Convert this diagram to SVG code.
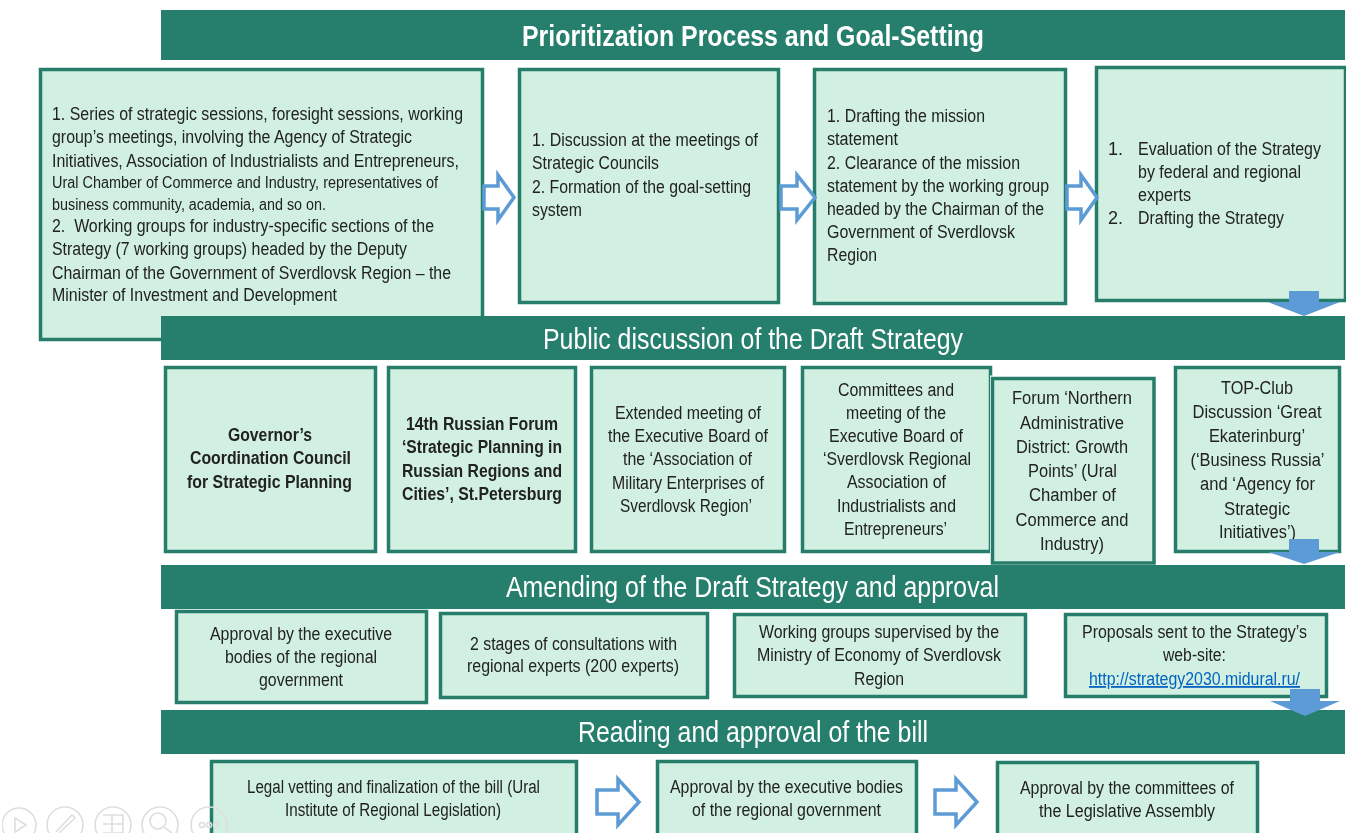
<svg xmlns="http://www.w3.org/2000/svg" width="1351" height="833" viewBox="0 0 1351 833">
<style>
text{font-family:"Liberation Sans",Arial,sans-serif;fill:#222;font-size:18px}
.b{fill:#d1f0e1;stroke:#277d6b;stroke-width:3.5}
.h{fill:#277f6c}
.ht{fill:#fff;font-size:29px}
.bd{font-weight:bold}
.s{font-size:16px}
.ha{fill:#fff;stroke:#5b9bd5;stroke-width:3.5}
.da{fill:#5b9bd5}
.i{fill:none;stroke:#dedede;stroke-width:1.6}
</style>
<defs><filter id="soft" x="0" y="0" width="100%" height="100%"><feGaussianBlur stdDeviation="0.3"/></filter></defs>
<rect width="1351" height="833" fill="#fff"/>
<g filter="url(#soft)">
<g id="node-a"><rect class="b" x="40.500" y="69.500" width="442" height="270"/>
<text x="52" y="120" textLength="411" lengthAdjust="spacingAndGlyphs">1. Series of strategic sessions, foresight sessions, working</text>
<text x="52" y="143" textLength="360" lengthAdjust="spacingAndGlyphs">group’s meetings, involving the Agency of Strategic</text>
<text x="52" y="166.500" textLength="407" lengthAdjust="spacingAndGlyphs">Initiatives, Association of Industrialists and Entrepreneurs,</text>
<text class="s" x="52" y="188" textLength="386" lengthAdjust="spacingAndGlyphs">Ural Chamber of Commerce and Industry, representatives of</text>
<text class="s" x="52" y="209.500" textLength="274" lengthAdjust="spacingAndGlyphs">business community, academia, and so on.</text>
<text x="52" y="232" textLength="382" lengthAdjust="spacingAndGlyphs" xml:space="preserve">2.  Working groups for industry-specific sections of the</text>
<text x="52" y="255" textLength="355" lengthAdjust="spacingAndGlyphs">Strategy (7 working groups) headed by the Deputy</text>
<text x="52" y="279" textLength="399" lengthAdjust="spacingAndGlyphs">Chairman of the Government of Sverdlovsk Region – the</text>
<text x="52" y="301" textLength="285" lengthAdjust="spacingAndGlyphs">Minister of Investment and Development</text></g>
<g id="node-b"><rect class="b" x="519.500" y="69.500" width="259" height="233"/>
<text x="532" y="146" textLength="226" lengthAdjust="spacingAndGlyphs">1. Discussion at the meetings of</text>
<text x="532" y="169" textLength="127" lengthAdjust="spacingAndGlyphs">Strategic Councils</text>
<text x="532" y="192.500" textLength="219" lengthAdjust="spacingAndGlyphs">2. Formation of the goal-setting</text>
<text x="532" y="216" textLength="50" lengthAdjust="spacingAndGlyphs">system</text></g>
<g id="node-c"><rect class="b" x="814.500" y="69.500" width="251" height="234"/>
<text x="827" y="122" textLength="158" lengthAdjust="spacingAndGlyphs">1. Drafting the mission</text>
<text x="827" y="145" textLength="71" lengthAdjust="spacingAndGlyphs">statement</text>
<text x="827" y="169" textLength="193" lengthAdjust="spacingAndGlyphs">2. Clearance of the mission</text>
<text x="827" y="192" textLength="222" lengthAdjust="spacingAndGlyphs">statement by the working group</text>
<text x="827" y="215" textLength="217" lengthAdjust="spacingAndGlyphs">headed by the Chairman of the</text>
<text x="827" y="238" textLength="188" lengthAdjust="spacingAndGlyphs">Government of Sverdlovsk</text>
<text x="827" y="261" textLength="50" lengthAdjust="spacingAndGlyphs">Region</text></g>
<g id="node-d"><rect class="b" x="1096.500" y="67.500" width="249" height="233"/>
<text x="1108" y="155">1.</text><text x="1138" y="155" textLength="183" lengthAdjust="spacingAndGlyphs">Evaluation of the Strategy</text>
<text x="1138" y="178" textLength="163" lengthAdjust="spacingAndGlyphs">by federal and regional</text>
<text x="1138" y="201" textLength="53" lengthAdjust="spacingAndGlyphs">experts</text>
<text x="1108" y="224">2.</text><text x="1138" y="224" textLength="146" lengthAdjust="spacingAndGlyphs">Drafting the Strategy</text></g>

<g id="header-1"><rect class="h" x="161" y="10" width="1184" height="50"/><text class="ht bd" x="522" y="46" textLength="462" lengthAdjust="spacingAndGlyphs">Prioritization Process and Goal-Setting</text></g>
<g id="header-2"><rect class="h" x="161" y="316" width="1184" height="44"/><text class="ht" x="543" y="349" textLength="420" lengthAdjust="spacingAndGlyphs">Public discussion of the Draft Strategy</text></g>

<g id="node-r2-1"><rect class="b" x="165.500" y="367.500" width="210" height="184"/>
<text class="bd" x="228" y="441" textLength="84" lengthAdjust="spacingAndGlyphs">Governor’s</text>
<text class="bd" x="190" y="464" textLength="161" lengthAdjust="spacingAndGlyphs">Coordination Council</text>
<text class="bd" x="187" y="488" textLength="165" lengthAdjust="spacingAndGlyphs">for Strategic Planning</text></g>
<g id="node-r2-2"><rect class="b" x="388.500" y="367.500" width="187" height="184"/>
<text class="bd" x="406" y="430" textLength="152" lengthAdjust="spacingAndGlyphs">14th Russian Forum</text>
<text class="bd" x="402" y="453" textLength="160" lengthAdjust="spacingAndGlyphs">‘Strategic Planning in</text>
<text class="bd" x="402" y="477" textLength="160" lengthAdjust="spacingAndGlyphs">Russian Regions and</text>
<text class="bd" x="402" y="500" textLength="160" lengthAdjust="spacingAndGlyphs">Cities’, St.Petersburg</text></g>
<g id="node-r2-3"><rect class="b" x="591.500" y="367.500" width="193" height="184"/>
<text x="615" y="419" textLength="146" lengthAdjust="spacingAndGlyphs">Extended meeting of</text>
<text x="608" y="442" textLength="160" lengthAdjust="spacingAndGlyphs">the Executive Board of</text>
<text x="623" y="465" textLength="129" lengthAdjust="spacingAndGlyphs">the ‘Association of</text>
<text x="612" y="489" textLength="152" lengthAdjust="spacingAndGlyphs">Military Enterprises of</text>
<text x="620" y="512" textLength="132" lengthAdjust="spacingAndGlyphs">Sverdlovsk Region’</text></g>
<g id="node-r2-4"><rect class="b" x="802.500" y="367.500" width="188" height="184"/>
<text x="838" y="396" textLength="116" lengthAdjust="spacingAndGlyphs">Committees and</text>
<text x="846" y="419" textLength="100" lengthAdjust="spacingAndGlyphs">meeting of the</text>
<text x="829" y="442" textLength="134" lengthAdjust="spacingAndGlyphs">Executive Board of</text>
<text x="823" y="465" textLength="148" lengthAdjust="spacingAndGlyphs">‘Sverdlovsk Regional</text>
<text x="847" y="488" textLength="99" lengthAdjust="spacingAndGlyphs">Association of</text>
<text x="837" y="512" textLength="119" lengthAdjust="spacingAndGlyphs">Industrialists and</text>
<text x="844" y="535" textLength="103" lengthAdjust="spacingAndGlyphs">Entrepreneurs’</text></g>
<g id="node-r2-5"><rect x="990" y="375.500" width="167" height="190" fill="#fff"/><rect class="b" x="992.500" y="378.500" width="161.500" height="184.500"/>
<text x="1012" y="404" textLength="120" lengthAdjust="spacingAndGlyphs">Forum ‘Northern</text>
<text x="1020" y="429" textLength="104" lengthAdjust="spacingAndGlyphs">Administrative</text>
<text x="1016" y="453" textLength="112" lengthAdjust="spacingAndGlyphs">District: Growth</text>
<text x="1028" y="477" textLength="89" lengthAdjust="spacingAndGlyphs">Points’ (Ural</text>
<text x="1029" y="501" textLength="87" lengthAdjust="spacingAndGlyphs">Chamber of</text>
<text x="1015.500" y="526" textLength="113" lengthAdjust="spacingAndGlyphs">Commerce and</text>
<text x="1040" y="550" textLength="64" lengthAdjust="spacingAndGlyphs">Industry)</text></g>
<g id="node-r2-6"><rect class="b" x="1175.500" y="367.500" width="164" height="184"/>
<text x="1221" y="393.500" textLength="72" lengthAdjust="spacingAndGlyphs">TOP-Club</text>
<text x="1192.500" y="417.500" textLength="129" lengthAdjust="spacingAndGlyphs">Discussion ‘Great</text>
<text x="1209" y="441.500" textLength="96" lengthAdjust="spacingAndGlyphs">Ekaterinburg’</text>
<text x="1190.500" y="465.500" textLength="134" lengthAdjust="spacingAndGlyphs">(‘Business Russia’</text>
<text x="1200" y="489.500" textLength="115" lengthAdjust="spacingAndGlyphs">and ‘Agency for</text>
<text x="1224" y="514.500" textLength="66" lengthAdjust="spacingAndGlyphs">Strategic</text>
<text x="1219" y="538" textLength="77" lengthAdjust="spacingAndGlyphs">Initiatives’)</text></g>

<g id="header-3"><rect class="h" x="161" y="565" width="1184" height="44"/><text class="ht" x="506" y="597" textLength="493" lengthAdjust="spacingAndGlyphs">Amending of the Draft Strategy and approval</text></g>

<g id="node-r3-1"><rect class="b" x="176.500" y="611.500" width="250" height="91"/>
<text x="210" y="640" textLength="182" lengthAdjust="spacingAndGlyphs">Approval by the executive</text>
<text x="225" y="663" textLength="152" lengthAdjust="spacingAndGlyphs">bodies of the regional</text>
<text x="259" y="686" textLength="84" lengthAdjust="spacingAndGlyphs">government</text></g>
<g id="node-r3-2"><rect class="b" x="440.500" y="613.500" width="267" height="84"/>
<text x="470" y="650" textLength="207" lengthAdjust="spacingAndGlyphs">2 stages of consultations with</text>
<text x="467" y="672" textLength="212" lengthAdjust="spacingAndGlyphs">regional experts (200 experts)</text></g>
<g id="node-r3-3"><rect class="b" x="734.500" y="614.500" width="291" height="82"/>
<text x="759" y="638" textLength="240" lengthAdjust="spacingAndGlyphs">Working groups supervised by the</text>
<text x="757" y="661" textLength="244" lengthAdjust="spacingAndGlyphs">Ministry of Economy of Sverdlovsk</text>
<text x="854" y="685" textLength="50" lengthAdjust="spacingAndGlyphs">Region</text></g>
<g id="node-r3-4"><rect class="b" x="1065.500" y="614.500" width="261" height="82"/>
<text x="1082" y="638" textLength="225" lengthAdjust="spacingAndGlyphs">Proposals sent to the Strategy’s</text>
<text x="1163" y="661" textLength="63" lengthAdjust="spacingAndGlyphs">web-site:</text>
<text x="1089" y="685" textLength="211" lengthAdjust="spacingAndGlyphs" style="fill:#0563c1;text-decoration:underline">http://strategy2030.midural.ru/</text></g>

<g id="header-4"><rect class="h" x="161" y="710" width="1184" height="44"/><text class="ht" x="578" y="742" textLength="350" lengthAdjust="spacingAndGlyphs">Reading and approval of the bill</text></g>

<g id="node-r4-1"><rect class="b" x="211.500" y="761.500" width="365" height="80"/>
<text x="247" y="793" textLength="293" lengthAdjust="spacingAndGlyphs">Legal vetting and finalization of the bill (Ural</text>
<text x="285" y="816" textLength="216" lengthAdjust="spacingAndGlyphs">Institute of Regional Legislation)</text></g>
<g id="node-r4-2"><rect class="b" x="657.500" y="761.500" width="259" height="80"/>
<text x="670" y="793" textLength="233" lengthAdjust="spacingAndGlyphs">Approval by the executive bodies</text>
<text x="692" y="816" textLength="189" lengthAdjust="spacingAndGlyphs">of the regional government</text></g>
<g id="node-r4-3"><rect class="b" x="997.500" y="762.500" width="260" height="80"/>
<text x="1020" y="794" textLength="214" lengthAdjust="spacingAndGlyphs">Approval by the committees of</text>
<text x="1039" y="817" textLength="176" lengthAdjust="spacingAndGlyphs">the Legislative Assembly</text></g>

<g id="connectors">
<path class="ha" d="M484 186H498V175L514 197.500L498 220V209H484Z"/>
<path class="ha" d="M781 186H797V175L815 197.500L797 220V209H781Z"/>
<path class="ha" d="M1067 186H1081V175L1097 197.500L1081 220V209H1067Z"/>
<path class="ha" d="M597 790H618V779L639 802L618 825V814H597Z"/>
<path class="ha" d="M935 790H956V779L977 802L956 825V814H935Z"/>
<path class="da" d="M1289 291H1319V302H1340L1304 316L1268 302H1289Z"/>
<path class="da" d="M1289 539H1319V552H1340L1304 564L1268 552H1289Z"/>
<path class="da" d="M1290 689H1320V701H1340L1305 716L1270 701H1290Z"/>
</g>
<g id="toolbar">
<circle class="i" cx="19" cy="825" r="17"/><path class="i" d="M15 818L26 825L15 832Z"/>
<circle class="i" cx="65" cy="825" r="18"/><path class="i" d="M56 832L72 815L75 818L59 833"/>
<circle class="i" cx="113" cy="825" r="18"/><path class="i" d="M103 815H123V833H103M112 815V833M103 824H123"/>
<circle class="i" cx="160" cy="825" r="18"/><circle class="i" cx="158" cy="821" r="8"/><path class="i" d="M164 827L172 833"/>
<circle class="i" cx="209" cy="825" r="18"/><circle class="i" cx="202" cy="825" r="2.500"/><circle class="i" cx="209" cy="825" r="2.500"/><circle class="i" cx="216" cy="825" r="2.500"/>
</g>
</g>
</svg>
